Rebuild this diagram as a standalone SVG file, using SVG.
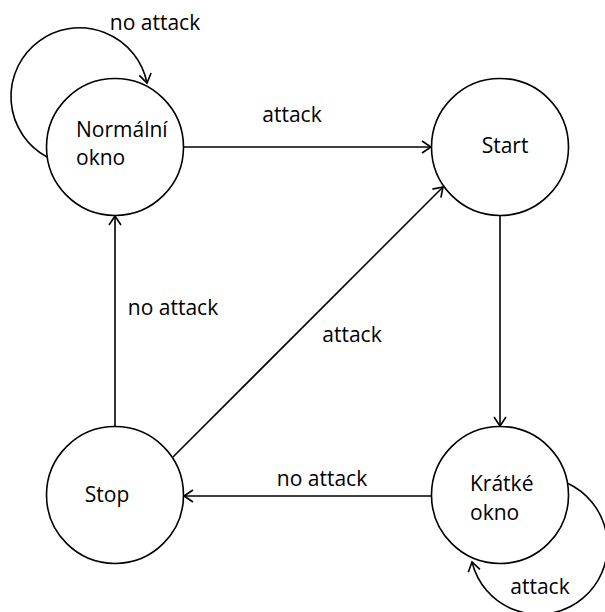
<svg xmlns="http://www.w3.org/2000/svg" width="605" height="612" viewBox="0 0 605 612">
<style>
.node{fill:#fff;stroke:#000;stroke-width:1.6}
.edge{fill:none;stroke:#000;stroke-width:1.6}
text{font-family:"Open Sans","DejaVu Sans",sans-serif;font-size:21px;fill:#000}
</style>
<defs>
<marker id="arr" markerUnits="userSpaceOnUse" markerWidth="20" markerHeight="20" viewBox="-12 -10 14 20" refX="0" refY="0" orient="auto">
<path d="M-9,-6 L0,0 L-9,6" fill="none" stroke="#000" stroke-width="1.6"/>
</marker>
</defs>
<g id="connectors">
<path class="edge" d="M47,157 A68.7,68.7 0 1 1 147,83" marker-end="url(#arr)"/>
<text x="155" y="30" text-anchor="middle">no attack</text>
<path class="edge" d="M184,147 L431,147" marker-end="url(#arr)"/>
<text x="292" y="122" text-anchor="middle">attack</text>
<path class="edge" d="M500,215 L500,426" marker-end="url(#arr)"/>
<path class="edge" d="M431,496 L184,496" marker-end="url(#arr)"/>
<text x="322" y="486" text-anchor="middle">no attack</text>
<path class="edge" d="M115,427 L115,216" marker-end="url(#arr)"/>
<text x="173" y="315" text-anchor="middle">no attack</text>
<path class="edge" d="M173,457 L443,187" marker-end="url(#arr)"/>
<text x="352" y="342" text-anchor="middle">attack</text>
<path class="edge" d="M567,483 A68.7,68.7 0 1 1 472,562" marker-end="url(#arr)"/>
<text x="540" y="594" text-anchor="middle">attack</text>
</g>
<g id="normalni">
<circle class="node" cx="115" cy="147" r="68.5"/>
<text x="76" y="137">Normální</text>
<text x="76" y="165">okno</text>
</g>
<g id="start">
<circle class="node" cx="500" cy="147" r="68.5"/>
<text x="505" y="153" text-anchor="middle">Start</text>
</g>
<g id="kratke">
<circle class="node" cx="500" cy="495" r="68.5"/>
<text x="470" y="491">Krátké</text>
<text x="470" y="520">okno</text>
</g>
<g id="stop">
<circle class="node" cx="115" cy="495" r="68.5"/>
<text x="107" y="502" text-anchor="middle">Stop</text>
</g>
</svg>
